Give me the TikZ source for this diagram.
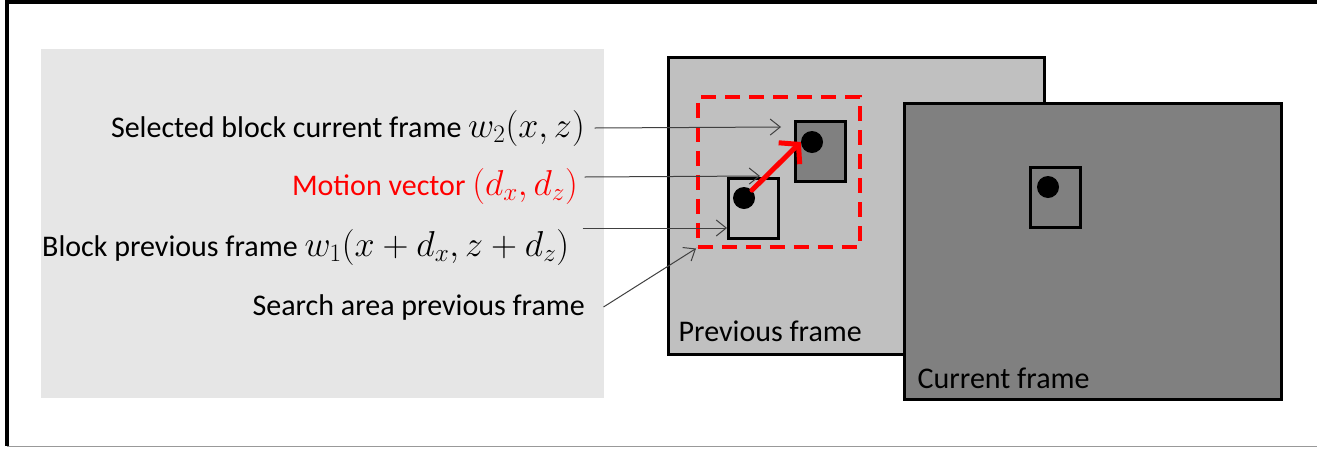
\RequirePackage{fix-cm}
\documentclass[tikz,border=0pt]{standalone}
\usepackage{fontspec}
\setmainfont{Carlito}
\usepackage{tikz}
\usetikzlibrary{arrows.meta,positioning,calc}

\definecolor{panelgray}{HTML}{E6E6E6}
\definecolor{prevgray}{HTML}{C0C0C0}
\definecolor{currgray}{HTML}{808080}
\definecolor{mvred}{HTML}{FF0000}

% math set a little larger, as in the original
\newcommand{\mvmath}[1]{{\fontsize{36}{36}\selectfont$#1$}}

\tikzset{
  frame/.style={draw=black,line width=3,rectangle,inner sep=0,anchor=north west},
  blockbox/.style={draw=black,line width=3,rectangle,inner sep=0,minimum width=50,minimum height=60},
  spot/.style={circle,fill=black,inner sep=0,minimum size=22},
  lbl/.style={inner sep=4.5,font=\fontsize{30}{36}\selectfont},
  pointer/.style={draw=black!75,line width=1,-{Straight Barb[length=10,width=16]}},
  motion/.style={draw=mvred,line width=5,line cap=round,-{Straight Barb[length=13,width=30]}}
}

\begin{document}
\begin{tikzpicture}[x=1pt,y=-1pt]
  \useasboundingbox (0,0) rectangle (1317,448);

  % outer border (cut off at right and bottom)
  \draw[line width=4] (1317,2) -- (6.5,2) -- (6.5,446);
  \draw[black!40,line width=1] (6.5,446.5) -- (1317,446.5);

  % label panel
  \fill[panelgray] (41,49) rectangle (604,398);

  % previous frame and its blocks
  \node[frame,fill=prevgray,minimum width=376,minimum height=297] (prev) at (667,56) {};
  \node[lbl,anchor=south west] (prevtxt) at (674,346) {Previous frame};
  \node[draw=mvred,line width=3.5,dash pattern=on 15 off 9,rectangle,inner sep=0,
        minimum width=162,minimum height=150,anchor=north west] (area) at (696,95) {};
  \node[blockbox,fill=currgray] (selblk) at (820,151) {};
  \node[blockbox,fill=prevgray] (prevblk) at (753,208) {};
  \node[spot] (seldot) at (812,142) {};
  \node[spot] (prevdot) at (744,198) {};
  \draw[motion] (prevdot) -- (seldot.west);

  % current frame
  \node[frame,fill=currgray,minimum width=377,minimum height=296] (curr) at (903,102) {};
  \node[lbl,anchor=south west] (currtxt) at (913,393) {Current frame};
  \node[blockbox,fill=currgray] (currblk) at (1055.5,197) {};
  \node[spot] (currdot) at (1048,187) {};

  % labels
  \node[lbl,anchor=east] (sel) at (589.5,128) {Selected block current frame \mvmath{w_2(x,z)}};
  \node[lbl,anchor=east,text=mvred] (mot) at (582.5,186) {Motion vector \mvmath{(d_x,d_z)}};
  \node[lbl,anchor=west] (blk) at (37.5,247) {Block previous frame \mvmath{w_1(x+d_x,z+d_z)}};
  \node[lbl,anchor=east] (srch) at (589.5,307) {Search area previous frame};

  % pointers
  \coordinate (selend) at (781,127);
  \coordinate (motend) at (760,176);
  \coordinate (blkend) at (727,228);
  \draw[pointer] ([xshift=5]sel.east) -- (selend);
  \draw[pointer] ($(mot.east)+(2,-9)$) -- (motend);
  \draw[pointer] (blkend -| mot.east) -- (blkend);
  \draw[pointer] ($(srch.east)+(14,0)$) -- (area.south west);
\end{tikzpicture}
\end{document}
